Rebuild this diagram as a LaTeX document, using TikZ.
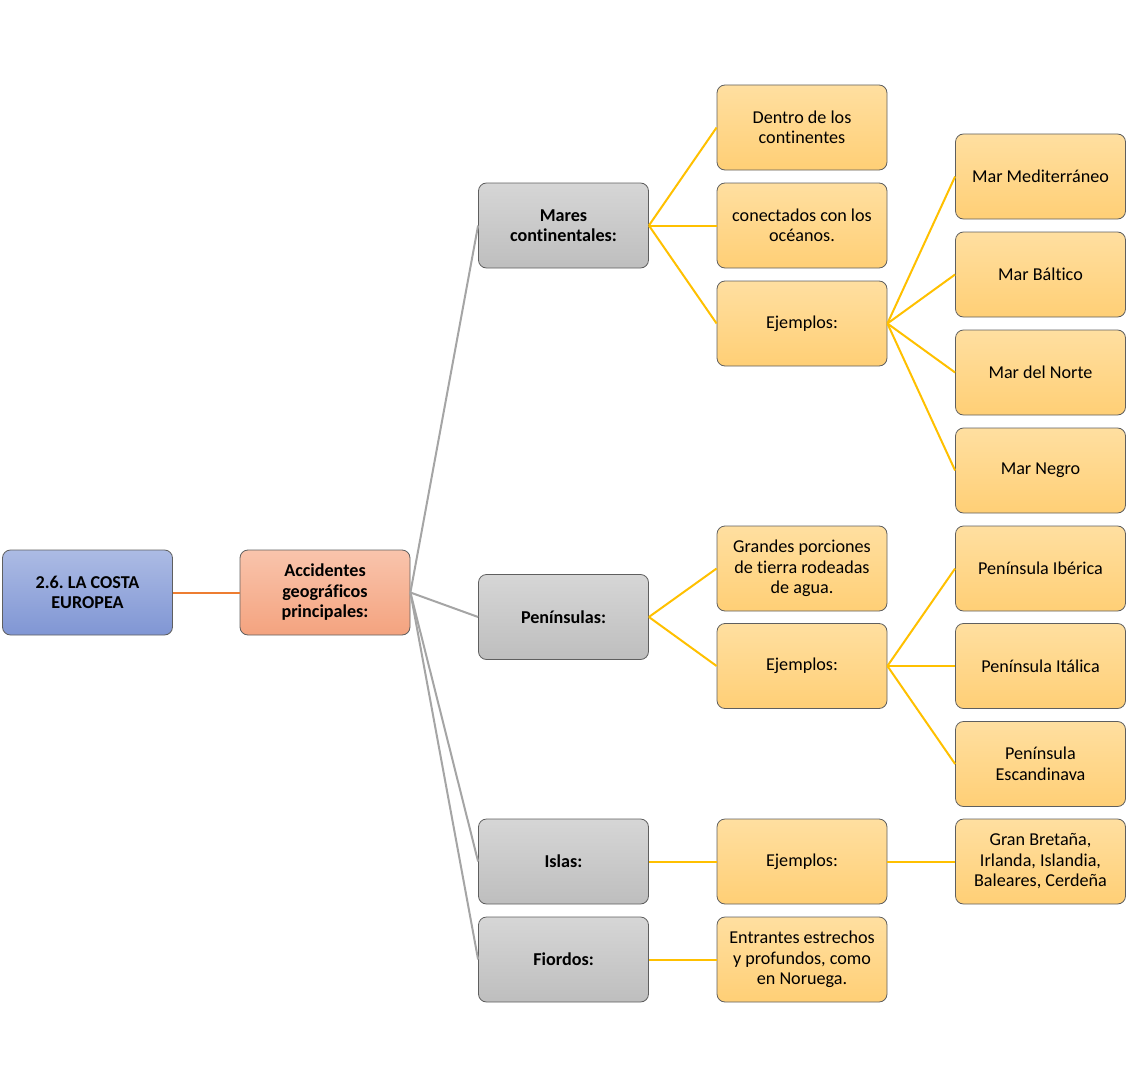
\documentclass[tikz,border=0pt]{standalone}
\usepackage{fontspec}
\setmainfont{Carlito}[Ligatures=NoCommon]
\usepackage{tikz}
\usetikzlibrary{positioning}
\frenchspacing

\definecolor{bluetop}{RGB}{172,187,228}
\definecolor{bluebot}{RGB}{128,150,212}
\definecolor{salmontop}{RGB}{249,196,172}
\definecolor{salmonbot}{RGB}{244,163,127}
\definecolor{graytop}{RGB}{214,214,214}
\definecolor{graybot}{RGB}{190,190,190}
\definecolor{yeltop}{RGB}{255,223,160}
\definecolor{yelbot}{RGB}{255,207,118}
\definecolor{boxline}{RGB}{95,95,95}
\definecolor{orangeline}{RGB}{237,125,49}
\definecolor{grayline}{RGB}{165,165,165}
\definecolor{goldline}{RGB}{255,192,0}

\begin{document}
\begin{tikzpicture}[
						x=0.75pt, y=-0.75pt,
						font=\fontsize{13.6}{15.4}\selectfont,
						% Define a style for all boxes
						box style/.style={rectangle, rounded corners=6pt, draw=boxline, line width=0.6pt,
							minimum width=127.5pt, minimum height=63.75pt, align=center, inner sep=2pt},
						root style/.style={box style, top color=bluetop, bottom color=bluebot, font=\fontsize{13.6}{15.4}\selectfont\bfseries},
						main style/.style={box style, top color=salmontop, bottom color=salmonbot, font=\fontsize{13.6}{15.4}\selectfont\bfseries},
						topic style/.style={box style, top color=graytop, bottom color=graybot, font=\fontsize{13.6}{15.4}\selectfont\bfseries},
						leaf style/.style={box style, top color=yeltop, bottom color=yelbot},
						edge style/.style={line width=1.5pt}
						]
						\useasboundingbox (0,0) rectangle (1129,1088);
						
						% Define and place your nodes
						\node[root style] (costa) at (87.5, 592.5) {2.6. LA COSTA\\EUROPEA};
						\node[main style] (accidentes) at (325, 592.5) {Accidentes\\geográficos\\principales:};
						
						\node[topic style] (mares) at (563.5, 225.5) {Mares\\continentales:};
						\node[topic style] (peninsulas) at (563.5, 617) {Penínsulas:};
						\node[topic style] (islas) at (563.5, 861.5) {Islas:};
						\node[topic style] (fiordos) at (563.5, 959.5) {Fiordos:};
						
						\node[leaf style] (dentro) at (802, 127.5) {Dentro de los\\continentes};
						\node[leaf style] (conectados) at (802, 225.5) {conectados con los\\océanos.};
						\node[leaf style] (ejmares) at (802, 323.5) {Ejemplos:};
						\node[leaf style] (grandes) at (802, 568.5) {Grandes porciones\\de tierra rodeadas\\de agua.};
						\node[leaf style] (ejpen) at (802, 666) {Ejemplos:};
						\node[leaf style] (ejislas) at (802, 861.5) {Ejemplos:};
						\node[leaf style] (entrantes) at (802, 959.5) {Entrantes estrechos\\y profundos, como\\en Noruega.};
						
						\node[leaf style] (medit) at (1040.5, 176.5) {Mar Mediterráneo};
						\node[leaf style] (baltico) at (1040.5, 274.5) {Mar Báltico};
						\node[leaf style] (norte) at (1040.5, 372.5) {Mar del Norte};
						\node[leaf style] (negro) at (1040.5, 470.5) {Mar Negro};
						\node[leaf style] (iberica) at (1040.5, 568.5) {Península Ibérica};
						\node[leaf style] (italica) at (1040.5, 666) {Península Itálica};
						\node[leaf style] (escand) at (1040.5, 764) {Península\\Escandinava};
						\node[leaf style] (bretana) at (1040.5, 861.5) {Gran Bretaña,\\Irlanda, Islandia,\\Baleares, Cerdeña};
						
						% --- Draw the edges ---
						\draw[edge style, orangeline] (costa.east) -- (accidentes.west);
						
						\foreach \t in {mares, peninsulas, islas, fiordos}
							\draw[edge style, grayline] (accidentes.east) -- (\t.west);
						
						\foreach \t in {dentro, conectados, ejmares}
							\draw[edge style, goldline] (mares.east) -- (\t.west);
						\foreach \t in {grandes, ejpen}
							\draw[edge style, goldline] (peninsulas.east) -- (\t.west);
						\draw[edge style, goldline] (islas.east) -- (ejislas.west);
						\draw[edge style, goldline] (fiordos.east) -- (entrantes.west);
						
						\foreach \t in {medit, baltico, norte, negro}
							\draw[edge style, goldline] (ejmares.east) -- (\t.west);
						\foreach \t in {iberica, italica, escand}
							\draw[edge style, goldline] (ejpen.east) -- (\t.west);
						\draw[edge style, goldline] (ejislas.east) -- (bretana.west);
					\end{tikzpicture}
\end{document}
